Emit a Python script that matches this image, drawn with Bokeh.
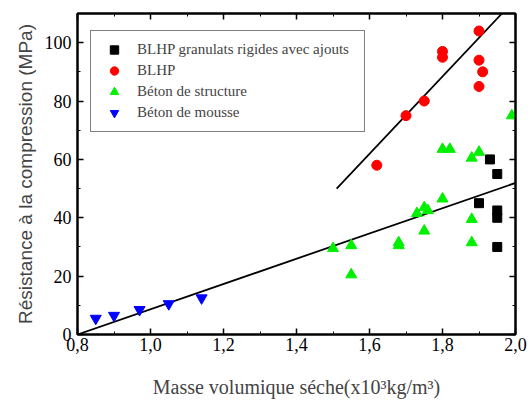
from bokeh.plotting import figure
from bokeh.models import FixedTicker, LinearAxis, Range1d, Legend, LegendItem, CustomLabelingPolicy
from bokeh.embed import file_html
from bokeh.resources import INLINE

# --- data ---
blhp_gr_x = [1.93, 1.95, 1.90, 1.95, 1.95, 1.95]
blhp_gr_y = [60, 55, 45, 42.5, 40, 30]

blhp_x = [1.62, 1.70, 1.75, 1.80, 1.80, 1.90, 1.90, 1.91, 1.90]
blhp_y = [58, 75, 80, 97, 95, 104, 94, 90, 85]

struct_x = [1.50, 1.55, 1.55, 1.68, 1.68, 1.73, 1.75, 1.76, 1.75, 1.80, 1.80, 1.82, 1.88, 1.90, 1.88, 1.88, 1.99]
struct_y = [29.5, 30.5, 20.5, 31.5, 30.5, 41.5, 43.5, 42.5, 35.5, 46.5, 63.5, 63.5, 60.5, 62.5, 39.5, 31.5, 75]

mousse_x = [0.85, 0.90, 0.97, 1.05, 1.14]
mousse_y = [5.5, 6.5, 8.5, 10.5, 12.5]

fit1_x = [0.80, 2.02]
fit1_y = [0.0, 52.8]
fit2_x = [1.51, 1.963]
fit2_y = [50.0, 110.0]

x_ticks = [0.8, 1.0, 1.2, 1.4, 1.6, 1.8, 2.0]
x_tick_labels = ["0,8", "1,0", "1,2", "1,4", "1,6", "1,8", "2,0"]
x_minor = [0.9, 1.1, 1.3, 1.5, 1.7, 1.9]
y_ticks = [0, 20, 40, 60, 80, 100]
y_minor = [10, 30, 50, 70, 90]

legend_labels = ["BLHP granulats rigides avec ajouts", "BLHP", "Béton de structure", "Béton de mousse"]

SERIF = "Liberation Serif"

p = figure(width=531, height=403, output_backend="svg", toolbar_location=None,
           x_range=Range1d(0.8, 2.0), y_range=Range1d(0, 110),
           min_border_left=77, min_border_right=16, min_border_top=13, min_border_bottom=69,
           x_axis_label="Masse volumique séche(x10³kg/m³)",
           y_axis_label="Résistance à la compression (MPa)")
p.grid.visible = False
p.outline_line_color = "black"
p.outline_line_width = 2
p.background_fill_color = "white"
p.border_fill_color = "white"

xt = FixedTicker(ticks=x_ticks, minor_ticks=x_minor)
yt = FixedTicker(ticks=y_ticks, minor_ticks=y_minor)

def style_axis(ax):
    ax.axis_line_color = "black"
    ax.axis_line_width = 2
    ax.major_tick_in = 6
    ax.major_tick_out = 0
    ax.minor_tick_in = 3
    ax.minor_tick_out = 0
    ax.major_tick_line_color = "black"
    ax.minor_tick_line_color = "black"
    ax.major_tick_line_width = 1.5
    ax.minor_tick_line_width = 1
    ax.major_label_text_font = SERIF
    ax.major_label_text_font_size = "18px"
    ax.major_label_text_color = "black"

xa = p.xaxis[0]
ya = p.yaxis[0]
xa.ticker = xt
xa.major_label_overrides = {t: l for t, l in zip(x_ticks, x_tick_labels)}
ya.ticker = yt
style_axis(xa)
style_axis(ya)
xa.major_label_standoff = 3
ya.major_label_standoff = 6
xa.axis_label_text_font = SERIF
xa.axis_label_text_font_size = "20px"
xa.axis_label_text_font_style = "normal"
xa.axis_label_standoff = 22
ya.axis_label_text_font = "Liberation Sans"
ya.axis_label_text_font_size = "19px"
ya.axis_label_text_font_style = "normal"
ya.axis_label_standoff = 6

hide = CustomLabelingPolicy(code="""
try { for (let i = 0; i < indices.size; i++) { indices.unset(i) } } catch (e) {}
return indices
""")
top = LinearAxis(ticker=xt, major_label_policy=hide)
right = LinearAxis(ticker=yt, major_label_policy=hide)
style_axis(top)
style_axis(right)
for ax in (top, right):
    ax.major_label_text_font_size = "1px"
    ax.major_label_standoff = 0
p.add_layout(top, "above")
p.add_layout(right, "right")

p.line(fit1_x, fit1_y, line_color="black", line_width=1.8)
p.line(fit2_x, fit2_y, line_color="black", line_width=1.8)

r1 = p.scatter(blhp_gr_x, blhp_gr_y, marker="square", size=9, fill_color="black", line_color="black")
r2 = p.scatter(blhp_x, blhp_y, marker="circle", size=10, fill_color="red", line_color="red")
r3 = p.scatter(struct_x, struct_y, marker="triangle", size=11, fill_color="#00f000", line_color="#00f000")
r4 = p.scatter(mousse_x, mousse_y, marker="inverted_triangle", size=11, fill_color="blue", line_color="blue")

legend = Legend(items=[LegendItem(label=l, renderers=[r]) for l, r in zip(legend_labels, [r1, r2, r3, r4])],
                location=(13, 202))
legend.label_text_font = SERIF
legend.label_text_font_size = "15px"
legend.label_height = 21
legend.glyph_height = 21
legend.glyph_width = 30
legend.spacing = 0
legend.padding = 8
legend.label_standoff = 8
legend.label_width = 219
legend.border_line_color = "black"
legend.border_line_width = 1.5
legend.background_fill_alpha = 1
legend.margin = 0
p.add_layout(legend, "center")

open("out.html", "w").write(file_html(p, INLINE))
